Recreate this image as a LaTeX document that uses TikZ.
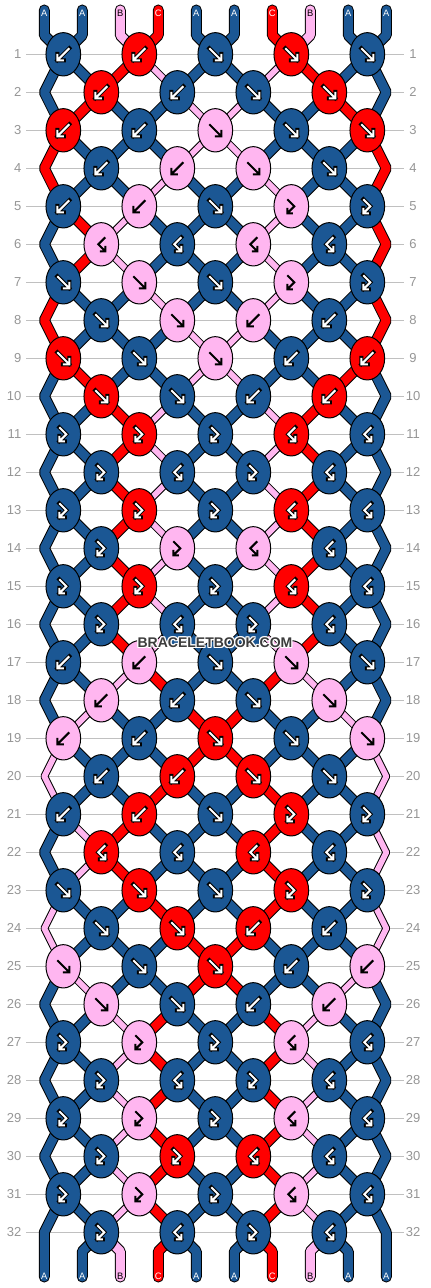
\documentclass[tikz,border=0pt]{standalone}
\usepackage{fontspec}
\setmainfont{Liberation Sans}
\usetikzlibrary{shapes.geometric}
\definecolor{cA}{RGB}{27,87,148}
\definecolor{cB}{RGB}{255,182,240}
\definecolor{cC}{RGB}{255,0,0}
\definecolor{gridc}{RGB}{192,192,192}
\definecolor{numc}{RGB}{150,150,150}
\definecolor{wmc}{RGB}{60,60,60}
\tikzset{
  str/.style={line width=\sw, line cap=round, line join=bevel},
  strc/.style={line width=\csname sw#1\endcsname, line cap=round, line join=bevel},
  knot/.style={ellipse, draw=black, line width=0.75pt, minimum width=26pt, minimum height=32.5pt, inner sep=0pt},
  glo/.style={black, line width=3pt, line cap=rect, line join=miter},
  gly/.style={line width=1.5pt, line cap=butt, line join=miter},
  lbl/.style={text=numc, font=\fontsize{9.75}{10}\selectfont, inner sep=0pt},
  endlbl/.style={font=\fontsize{7}{8}\selectfont, inner sep=0pt},
  rowline/.style={gridc, line width=0.75pt},
  wm/.style={font=\fontsize{10.5}{12}\selectfont\bfseries, inner sep=0pt},
}
\newcommand\gf[1]{\draw[#1] (-6,-6) -- (6,6) (6,-0.5) -- (6,6) -- (-0.5,6);}
\newcommand\gb[1]{\draw[#1] (6,-6) -- (-6,6) (-6,-0.5) -- (-6,6) -- (0.5,6);}
\newcommand\gx[1]{\draw[#1] (-4,-7) -- (3,0) -- (-4,7) (-4,1.5) -- (-4,7) -- (1.5,7);}
\newcommand\gy[1]{\draw[#1] (4,-7) -- (-3,0) -- (4,7) (4,1.5) -- (4,7) -- (-1.5,7);}
\newcommand\myglyph[2]{%
  \if#2B
    \csname g#1\endcsname{gly, black}%
  \else
    \csname g#1\endcsname{glo}%
    \csname g#1\endcsname{gly, white}%
  \fi}
\newcommand\innerstates{%
1/{A,A,C,B,A,A,B,C,A,A},%
2/{A,C,A,A,B,B,A,A,C,A},%
3/{C,A,A,A,B,B,A,A,A,C},%
4/{C,A,A,B,A,A,B,A,A,C},%
5/{A,C,B,A,A,A,B,A,A,C},%
6/{A,C,B,A,A,A,B,A,A,C},%
7/{C,A,A,B,A,A,B,A,A,C},%
8/{C,A,A,A,B,B,A,A,A,C},%
9/{A,C,A,A,B,B,A,A,C,A},%
10/{A,A,C,B,A,A,B,C,A,A},%
11/{A,A,C,B,A,A,B,C,A,A},%
12/{A,A,C,B,A,A,B,C,A,A},%
13/{A,A,C,B,A,A,B,C,A,A},%
14/{A,A,C,B,A,A,B,C,A,A},%
15/{A,A,C,B,A,A,B,C,A,A},%
16/{A,A,C,B,A,A,B,C,A,A},%
17/{A,A,B,C,A,A,C,B,A,A},%
18/{A,B,A,A,C,C,A,A,B,A},%
19/{B,A,A,A,C,C,A,A,A,B},%
20/{B,A,A,C,A,A,C,A,A,B},%
21/{A,B,C,A,A,A,C,A,A,B},%
22/{A,B,C,A,A,A,C,A,A,B},%
23/{B,A,A,C,A,A,C,A,A,B},%
24/{B,A,A,A,C,C,A,A,A,B},%
25/{A,B,A,A,C,C,A,A,B,A},%
26/{A,A,B,C,A,A,C,B,A,A},%
27/{A,A,B,C,A,A,C,B,A,A},%
28/{A,A,B,C,A,A,C,B,A,A},%
29/{A,A,B,C,A,A,C,B,A,A},%
30/{A,A,B,C,A,A,C,B,A,A},%
31/{A,A,B,C,A,A,C,B,A,A}}
\newcommand\edgestates{1/A/A,3/C/C,5/A/C,7/C/C,9/A/A,11/A/A,13/A/A,15/A/A,17/A/A,19/B/B,21/A/B,23/B/B,25/A/A,27/A/A,29/A/A,31/A/A}
\newcommand\knotrows{%
1/{b/A,b/C,f/A,f/C,f/A},%
2/{b/C,b/A,f/A,f/C},%
3/{b/C,b/A,f/B,f/A,f/C},%
4/{b/A,b/B,f/B,f/A},%
5/{b/A,b/B,f/A,x/B,x/A},%
6/{y/B,y/A,y/B,y/A},%
7/{f/A,f/B,f/A,x/B,x/A},%
8/{f/A,f/B,b/B,b/A},%
9/{f/C,f/A,f/B,b/A,b/C},%
10/{f/C,f/A,b/A,b/C},%
11/{x/A,x/C,x/A,y/C,y/A},%
12/{x/A,y/A,x/A,y/A},%
13/{x/A,x/C,x/A,y/C,y/A},%
14/{x/A,x/B,y/B,y/A},%
15/{x/A,x/C,x/A,y/C,y/A},%
16/{x/A,y/A,x/A,y/A},%
17/{b/A,b/B,f/A,f/B,f/A},%
18/{b/B,b/A,f/A,f/B},%
19/{b/B,b/A,f/C,f/A,f/B},%
20/{b/A,b/C,f/C,f/A},%
21/{b/A,b/C,f/A,x/C,x/A},%
22/{y/C,y/A,y/C,y/A},%
23/{f/A,f/C,f/A,x/C,x/A},%
24/{f/A,f/C,b/C,b/A},%
25/{f/B,f/A,f/C,b/A,b/B},%
26/{f/B,f/A,b/A,b/B},%
27/{x/A,x/B,x/A,y/B,y/A},%
28/{x/A,y/A,x/A,y/A},%
29/{x/A,x/B,x/A,y/B,y/A},%
30/{x/A,x/C,y/C,y/A},%
31/{x/A,x/B,x/A,y/B,y/A},%
32/{x/A,y/A,x/A,y/A}}
\newcommand\topcols{A,A,B,C,A,A,C,B,A,A}
\newcommand\allstrings{%
  \foreach \c [count=\p from 0] in \topcols {
    \draw[str, color=s\c] (t-\p) -- (u-\p) -- (n-1-\p);
  }
  \foreach \r/\s in \innerstates {
    \pgfmathtruncatemacro\rn{\r+1}
    \foreach \c [count=\p from 0] in \s {
      \ifnum\p>0 \ifnum\p<9 \draw[strc=\c, color=s\c] (n-\r-\p) -- (n-\rn-\p);\fi\fi
    }
  }
  \foreach \r/\cl/\cr in \edgestates {
    \pgfmathtruncatemacro\rn{\r+1}
    \pgfmathtruncatemacro\rnn{\r+2}
    \draw[strc=\cl, color=s\cl] (n-\r-0) -- (n-\rn-0) -- (n-\rnn-0);
    \draw[strc=\cr, color=s\cr] (n-\r-9) -- (n-\rn-9) -- (n-\rnn-9);
  }
  \foreach \c [count=\p from 0] in \topcols {
    \ifnum\p>0 \ifnum\p<9 \draw[str, color=s\c] (n-32-\p) -- (v-\p) -- (w-\p);\fi\fi
  }
}
\begin{document}
\begin{tikzpicture}[x=0.75pt,y=-0.75pt]
\fill[white] (0,0) rectangle (430,1288);
\useasboundingbox (0,0) rectangle (430,1288);
% grid coordinates, row lines and numbers
\foreach \r in {1,...,32} {
  \pgfmathsetmacro\yy{54.3+38*(\r-1)}
  \pgfmathtruncatemacro\odd{mod(\r,2)}
  \foreach \p in {0,...,9} {
    \ifnum\odd=1
      \pgfmathsetmacro\xx{63.3+76*floor(\p/2)}
    \else
      \pgfmathsetmacro\xx{\p==0 ? 44.3 : (\p==9 ? 386.3 : 101.3+76*floor((\p-1)/2))}
    \fi
    \coordinate (n-\r-\p) at (\xx,\yy);
  }
  \coordinate (gl-\r) at (26,\yy);
  \coordinate (gr-\r) at (404,\yy);
  \draw[rowline] (gl-\r) -- (gr-\r);
  \node[lbl, anchor=east] (ll-\r) at (21.5,\yy) {\r};
  \node[lbl] (lr-\r) at (413,\yy) {\r};
}
\foreach \p in {0,...,9} {
  \pgfmathsetmacro\xx{44.3+38*\p}
  \coordinate (t-\p) at (\xx,10);
  \coordinate (u-\p) at (\xx,35.3);
  \coordinate (v-\p) at (\xx,1251.3);
  \coordinate (w-\p) at (\xx,1277);
}
\coordinate (n-33-0) at (44.3,1277);
\coordinate (n-33-9) at (386.3,1277);
% strings: outline pass then colour pass
\begin{scope}
  \colorlet{sA}{black}\colorlet{sB}{black}\colorlet{sC}{black}
  \def\sw{8.25pt}\def\swA{8.25pt}\def\swB{5.8pt}\def\swC{8.25pt}
  \allstrings
\end{scope}
\begin{scope}
  \colorlet{sA}{cA}\colorlet{sB}{cB}\colorlet{sC}{cC}
  \def\sw{6.75pt}\def\swA{6.75pt}\def\swB{4.3pt}\def\swC{6.75pt}
  \allstrings
\end{scope}
% knots
\foreach \r/\ks in \knotrows {
  \pgfmathtruncatemacro\odd{mod(\r,2)}
  \foreach \t/\c [count=\j from 0] in \ks {
    \pgfmathtruncatemacro\q{\odd==1 ? 2*\j : 2*\j+1}
    \node[knot, fill=c\c] (k-\r-\j) at (n-\r-\q) {};
    \begin{scope}[shift={(k-\r-\j.center)}]
      \myglyph{\t}{\c}
    \end{scope}
  }
}
% end letters
\foreach \c [count=\p from 0] in \topcols {
  \pgfmathsetmacro\xx{44.3+38*\p}
  \if\c B\def\tc{black}\else\def\tc{white}\fi
  \node[endlbl, text=\tc] (tl-\p) at (\xx,13.5) {\c};
  \node[endlbl, text=\tc] (bl-\p) at (\xx,1276) {\c};
}
% watermark
\foreach \dx/\dy [count=\i] in {-1/0,1/0,0/-1,0/1,-1/-1,1/1,-1/1,1/-1} {
  \node[wm, text=white] (wh-\i) at (215+\dx,643+\dy) {BRACELETBOOK.COM};
}
\node[wm, text=wmc] (wmark) at (215,643) {BRACELETBOOK.COM};
\end{tikzpicture}
\end{document}
